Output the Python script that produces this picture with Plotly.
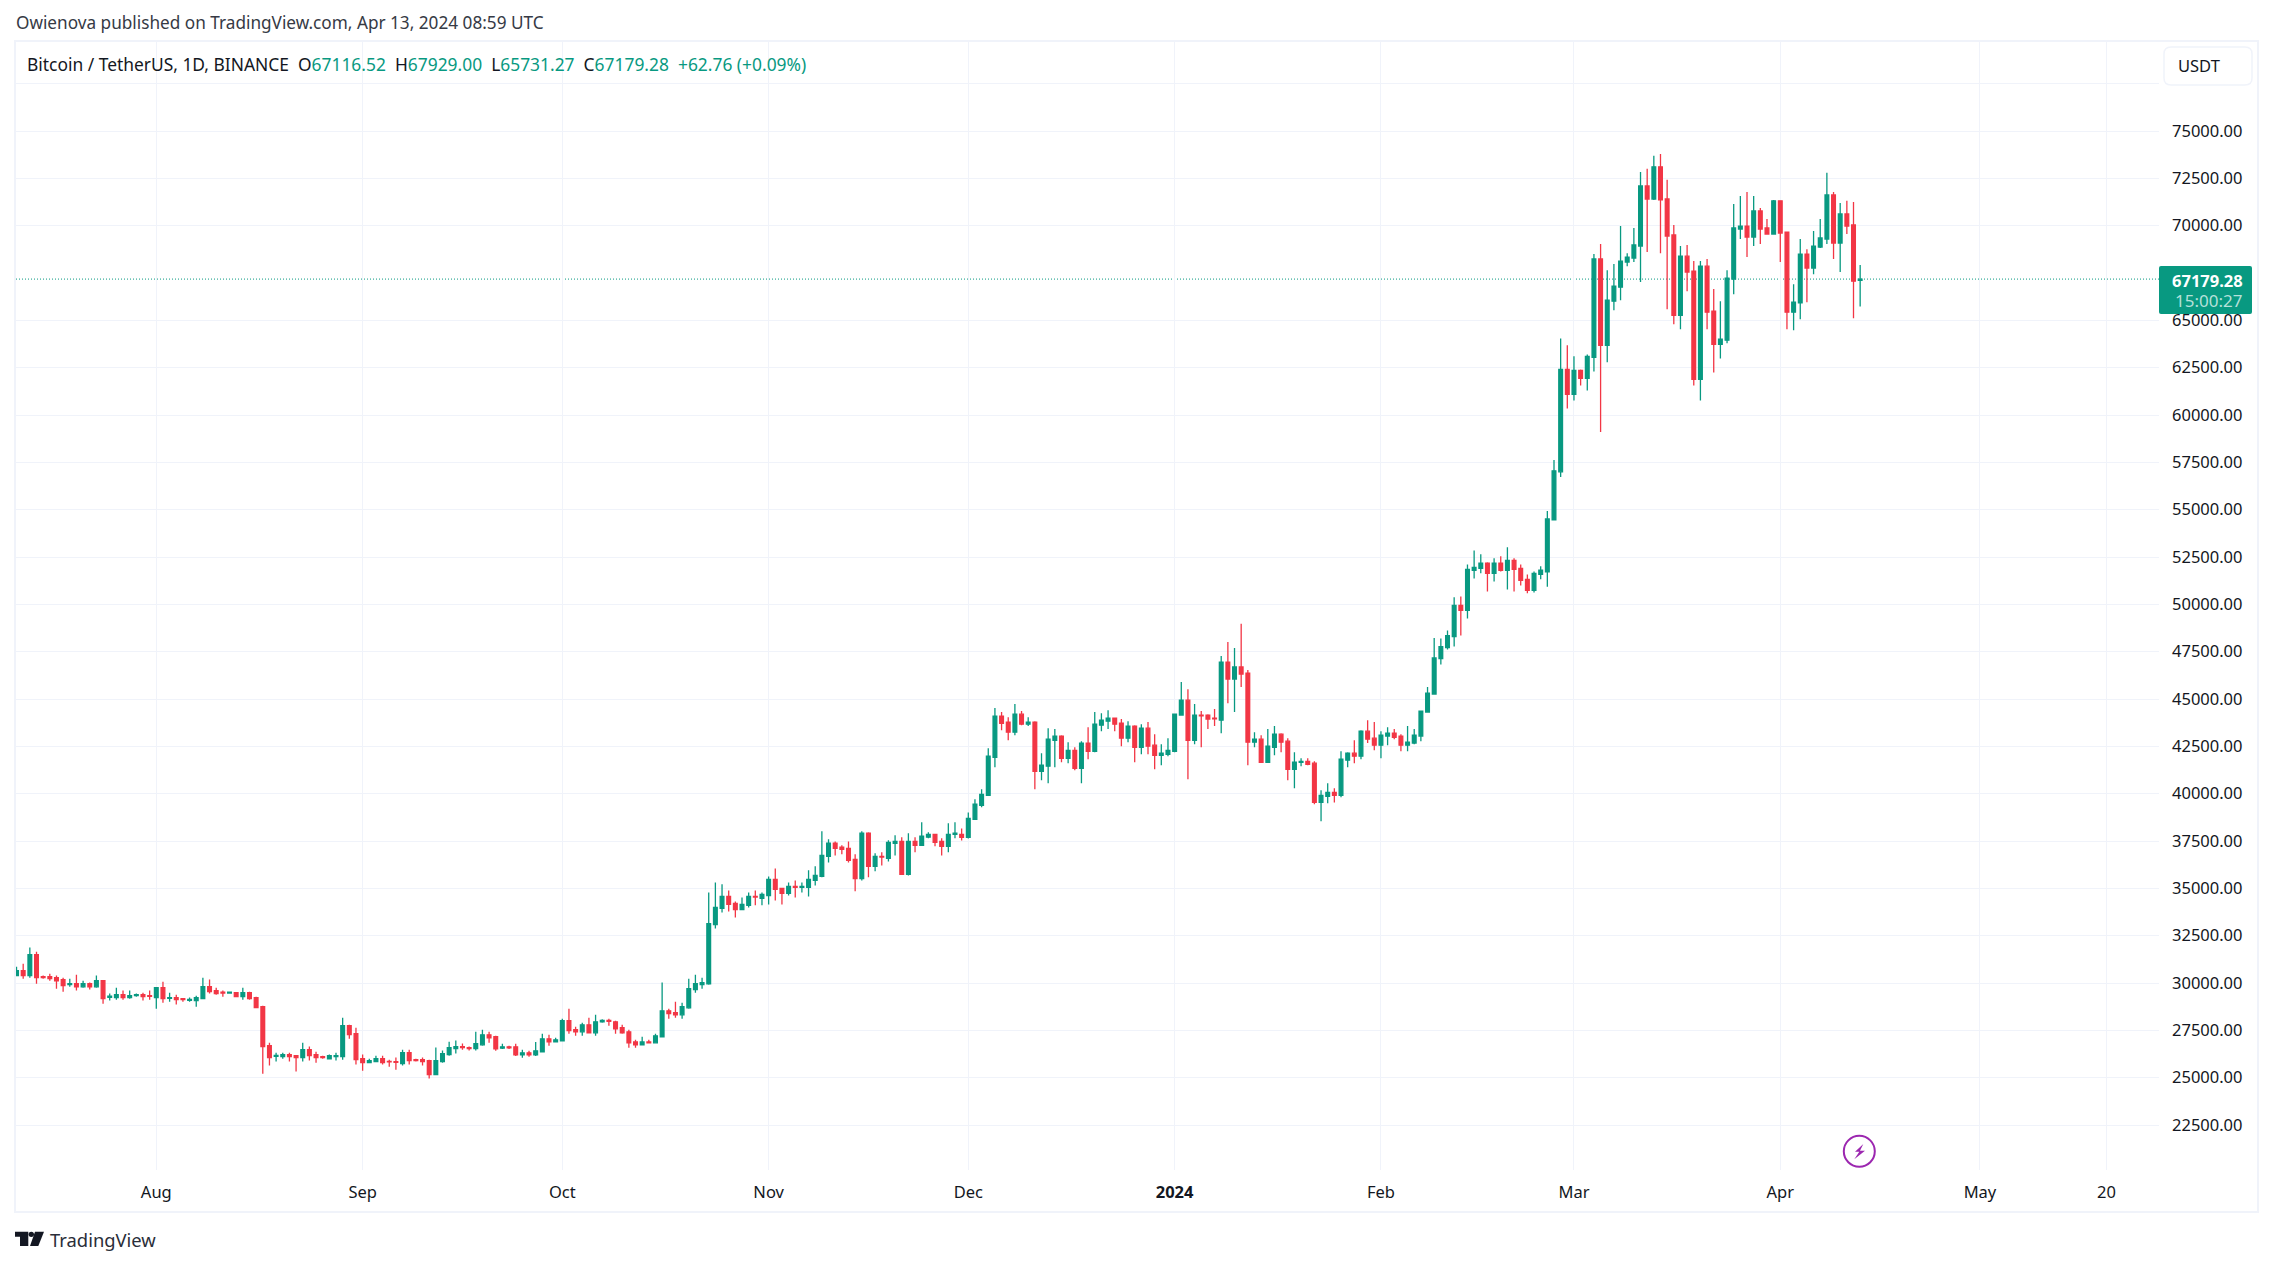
import pandas as pd
import plotly.graph_objects as go

START_DATE = "2023-07-11"

# daily candles, one line per month (Jul 2023 .. Apr 2024)
opens = [
    30390, 30650, 30390, 31500, 30330, 30330, 30280, 30180, 29910, 29960, 29800, 29960, 29800, 30120, 29240, 29230, 29380, 29230, 29330, 29380, 29330,
    29230, 29750, 29190, 29230, 29170, 29080, 29070, 29170, 29810, 29600, 29510, 29470, 29490, 29280, 29490, 29230, 28750, 26690, 26130, 26110, 26220, 26160, 26060, 26480, 26220, 26110, 26000, 26110, 26110, 27750, 27320,
    26000, 25790, 25850, 26000, 25860, 25850, 25740, 26320, 25950, 25950, 25900, 25160, 25850, 26220, 26530, 26640, 26590, 26530, 26735, 27260, 27160, 26560, 26630, 26630, 26210, 26310, 26210, 26360, 27050, 26890,
    26950, 28010, 27530, 27420, 27790, 27370, 27950, 28020, 27950, 27640, 27420, 26890, 26730, 26890, 26840, 27160, 28530, 28430, 28320, 28690, 29650, 29910, 29960, 33090, 33940, 34570, 34200, 33880, 34100, 34570, 34470,
    34620, 35470, 34990, 34730, 35100, 35050, 35050, 35420, 35630, 36690, 37380, 37170, 37110, 36530, 35520, 37910, 36160, 36690, 36580, 37380, 37480, 35740, 37480, 37270, 37700, 37850, 37480, 37220, 37850, 37850,
    37690, 38640, 39380, 39910, 41920, 44090, 43780, 43250, 44200, 43670, 43780, 41180, 41450, 42820, 43040, 41870, 42290, 41340, 42670, 42240, 43620, 43830, 43990, 43720, 42930, 43570, 42450, 43460, 42560, 42030, 42080,
    42240, 44150, 44940, 42820, 44150, 44150, 43990, 43880, 46950, 46050, 46690, 46370, 42720, 42880, 41660, 42450, 43140, 42770, 41290, 41660, 41710, 41610, 39540, 39860, 40070, 39910, 41770, 42140, 41980, 43300, 42930,
    42560, 43040, 43190, 43040, 42560, 42670, 43040, 44310, 45260, 47130, 47720, 48300, 49940, 49680, 51800, 51900, 52170, 51640, 52170, 51800, 52320, 51900, 51320, 50740, 51580, 51720, 54460, 57000, 62410,
    61090, 62360, 61930, 63050, 68240, 63680, 66010, 66750, 68080, 68290, 68920, 72100, 71410, 73110, 71410, 69510, 65270, 68390, 67600, 61880, 67860, 65480, 63730, 63950, 67180, 69820, 69980, 69400, 70780, 69880, 69560,
    71310, 69660, 65430, 65920, 68500, 67760, 68870, 69290, 71620, 69080, 70620, 70040, 67116.52,
]
highs = [
    30860, 31020, 31870, 31650, 30400, 30490, 30390, 30280, 30230, 30440, 30120, 30020, 30390, 30120, 29440, 29750, 29600, 29600, 29440, 29490, 29600,
    29750, 30070, 29490, 29380, 29170, 29230, 29330, 30280, 30180, 29750, 29600, 29540, 29490, 29750, 29540, 29280, 28800, 26850, 26320, 26320, 26320, 26160, 26850, 26640, 26370, 26160, 26220, 26320, 28170, 27800, 27640,
    26220, 26000, 26160, 26160, 25950, 26060, 26480, 26480, 26000, 26060, 25950, 26590, 26430, 26900, 26960, 26800, 26640, 27430, 27530, 27420, 27210, 26790, 26680, 26790, 26470, 26420, 26890, 27320, 27260, 27110,
    28110, 28640, 27690, 27900, 28160, 28320, 28080, 28110, 28000, 27790, 27530, 27000, 27160, 27000, 27320, 30020, 28640, 29010, 28960, 30230, 30440, 30280, 34780, 35310, 35210, 34890, 34310, 34520, 34780, 34890, 34780,
    35630, 36050, 34990, 35310, 35420, 35310, 35950, 36160, 38010, 37590, 37480, 37270, 37480, 36800, 38010, 37960, 36850, 36900, 37540, 37800, 37700, 37910, 37700, 38490, 37960, 37850, 37640, 38440, 38490, 38160,
    39010, 39700, 40230, 42400, 44520, 44310, 44040, 44730, 44360, 44040, 43830, 42140, 43460, 43410, 43090, 42720, 42450, 42770, 43510, 44310, 44250, 44410, 43990, 43940, 43830, 43620, 43670, 43780, 43140, 42610, 42930,
    44200, 45900, 45520, 44730, 44360, 44200, 44470, 47270, 48010, 47700, 48970, 46530, 43250, 43090, 43410, 43570, 43190, 42930, 42190, 41870, 41870, 41710, 40180, 40550, 40280, 42240, 42190, 42820, 43350, 43880, 43780,
    43300, 43510, 43410, 43140, 43570, 43410, 44360, 45630, 48220, 48190, 48620, 50370, 50420, 52110, 52850, 52640, 52220, 52430, 52540, 53010, 52430, 52110, 51580, 51740, 52010, 54930, 57630, 64040, 63680,
    63100, 62410, 63200, 68500, 69030, 67650, 67970, 69980, 68550, 69880, 72840, 73000, 73690, 73790, 72420, 70040, 68920, 68980, 68130, 68130, 68240, 66650, 66010, 67650, 71150, 71570, 71780, 71570, 70940, 70350, 71360,
    71310, 69660, 66910, 69290, 68760, 69720, 70350, 72790, 71780, 71200, 71310, 71250, 67929.00,
]
lows = [
    30350, 30230, 30280, 29960, 30230, 30120, 29700, 29540, 29800, 29600, 29750, 29650, 29750, 28910, 29070, 29120, 29120, 29170, 29280, 29070, 29120,
    28640, 28960, 29010, 28860, 29010, 29010, 28750, 29170, 29440, 29380, 29280, 29440, 29280, 29120, 29120, 28700, 25210, 25640, 25850, 26000, 25850, 25320, 25850, 25900, 25790, 26000, 26000, 25900, 25950, 27060, 25690,
    25370, 25790, 25850, 25690, 25580, 25420, 25640, 25690, 25850, 25640, 24950, 25160, 25790, 26160, 26270, 26480, 26430, 26430, 26680, 26840, 26420, 26520, 26520, 26150, 26050, 26100, 26150, 26360, 26680, 26890,
    26950, 27320, 27210, 27210, 27370, 27210, 27900, 27740, 27320, 27320, 26580, 26580, 26730, 26840, 26840, 27160, 28110, 28160, 28110, 28640, 29490, 29700, 29910, 32880, 33720, 33780, 33460, 33880, 33990, 34100, 34100,
    34150, 34360, 34150, 34620, 34520, 34780, 34570, 35150, 35580, 36370, 36740, 36800, 36370, 34840, 35420, 35580, 35900, 36210, 36420, 36740, 35740, 35680, 36900, 37270, 37640, 37220, 36740, 36900, 37640, 37530,
    37630, 38640, 39280, 39910, 41390, 43350, 42820, 43090, 43620, 43570, 40230, 40710, 40550, 41390, 41660, 41610, 41240, 40550, 41820, 42190, 43300, 43410, 43300, 42510, 42720, 41660, 42080, 42080, 41290, 41500, 41980,
    42190, 44150, 40760, 42610, 42450, 43410, 43570, 43190, 44780, 44310, 45630, 41500, 42450, 41660, 41660, 42030, 42190, 40710, 40280, 41450, 41500, 39440, 38540, 39490, 39540, 39810, 41390, 41610, 41820, 42670, 42290,
    41870, 42560, 42880, 42240, 42240, 42610, 42770, 44310, 45260, 46820, 47610, 47770, 48350, 49250, 51370, 51640, 50680, 51210, 51740, 50790, 50680, 51000, 50580, 50630, 51320, 50930, 54460, 56730, 60350,
    60770, 61560, 61300, 62300, 59100, 62780, 65530, 66060, 67860, 68080, 67020, 68610, 71360, 68550, 65590, 64790, 64530, 66540, 61560, 60770, 64530, 62250, 62990, 63790, 66380, 69290, 68340, 68920, 69030, 69560, 69560,
    68080, 64530, 64470, 65060, 65960, 67440, 68820, 69030, 68240, 67550, 69560, 65110, 65731.27,
]
closes = [
    30650, 30390, 31500, 30280, 30280, 30230, 30120, 29860, 29960, 29800, 29960, 29800, 30120, 29170, 29310, 29380, 29230, 29330, 29380, 29280, 29300,
    29750, 29170, 29230, 29120, 29120, 29140, 29230, 29810, 29540, 29440, 29470, 29510, 29280, 29490, 29170, 28700, 26640, 26060, 26180, 26220, 26110, 26060, 26480, 26160, 26060, 26060, 26160, 26160, 27750, 27270, 25950,
    25790, 25900, 26000, 25790, 25830, 25810, 26320, 25900, 25900, 25850, 25160, 25900, 26270, 26590, 26640, 26590, 26530, 26800, 27260, 27100, 26520, 26630, 26580, 26210, 26310, 26210, 26420, 27050, 26890, 27000,
    28010, 27480, 27420, 27790, 27370, 27950, 28020, 27970, 27580, 27370, 26840, 26730, 26890, 26840, 27210, 28530, 28380, 28320, 28750, 29700, 29960, 30020, 33140, 33990, 34570, 34150, 33880, 34150, 34570, 34540, 34680,
    35470, 34940, 34730, 35100, 35050, 35100, 35470, 35680, 36740, 37380, 37110, 37060, 36480, 35520, 37910, 36160, 36690, 36650, 37430, 37480, 35740, 37480, 37270, 37750, 37850, 37430, 37220, 37850, 37910, 37690,
    38690, 39440, 39960, 41980, 44090, 43720, 43250, 44200, 43670, 43780, 41180, 41500, 42880, 43040, 41870, 42290, 41340, 42670, 42240, 43670, 43880, 43990, 43670, 42930, 43570, 42450, 43460, 42510, 42030, 42140, 42290,
    44200, 44940, 42820, 44150, 44110, 43940, 43950, 46950, 46050, 46690, 46320, 42720, 42880, 41660, 42510, 43140, 42720, 41290, 41660, 41710, 41550, 39540, 39910, 40070, 39910, 41820, 42140, 41980, 43300, 42880, 42560,
    43090, 43190, 42980, 42560, 42720, 43090, 44360, 45310, 47170, 47770, 48350, 49940, 49680, 51850, 51950, 52170, 51640, 52170, 51800, 52320, 51850, 51270, 50740, 51640, 51800, 54510, 57050, 62410, 61090,
    62360, 61930, 63100, 68240, 63680, 66060, 66810, 68130, 68340, 68980, 72100, 71410, 73110, 71360, 69450, 65270, 68390, 67550, 61880, 67860, 65430, 63730, 64000, 67230, 69880, 69980, 69400, 70780, 69820, 69560, 71310,
    69610, 65430, 65960, 68500, 67760, 68920, 69350, 71620, 69080, 70620, 69980, 67070, 67179.28,
]

date_ticks = ["2023-08-01", "2023-09-01", "2023-10-01", "2023-11-01", "2023-12-01", "2024-01-01",
              "2024-02-01", "2024-03-01", "2024-04-01", "2024-05-01", "2024-05-20"]
date_labels = ["Aug", "Sep", "Oct", "Nov", "Dec", "<b>2024</b>", "Feb", "Mar", "Apr", "May", "20"]

# 67500 has no line or label in the picture, the price tag covers it
price_ticks = [22500, 25000, 27500, 30000, 32500, 35000, 37500, 40000, 42500, 45000, 47500, 50000,
               52500, 55000, 57500, 60000, 62500, 65000, 70000, 72500, 75000, 77500]
price_labels = [f"{p}.00" for p in price_ticks[:-1]] + [""]

last_price = 67179.28
countdown = "15:00:27"
title_text = "Owienova published on TradingView.com, Apr 13, 2024 08:59 UTC"

WIDTH, HEIGHT = 2273, 1266
LEFT, RIGHT, TOP, BOTTOM = 16, 2159, 41, 1170
GREEN = "#089981"
RED = "#F23645"
GRID = "#F0F3FA"
TEXT = "#131722"
FONT = "Noto Sans"
SIZE = 16.5
NB = "\u00a0\u00a0"


def px(x):
    return (x - LEFT) / (RIGHT - LEFT)


def py(y):
    return (BOTTOM - y) / (BOTTOM - TOP)


def poly(points):
    return "M " + " L ".join(f"{px(x)} {py(y)}" for x, y in points) + " Z"


def rounded(x0, y0, x1, y1, r):
    return (f"M {px(x0 + r)} {py(y0)} L {px(x1 - r)} {py(y0)} Q {px(x1)} {py(y0)} {px(x1)} {py(y0 + r)} "
            f"L {px(x1)} {py(y1 - r)} Q {px(x1)} {py(y1)} {px(x1 - r)} {py(y1)} "
            f"L {px(x0 + r)} {py(y1)} Q {px(x0)} {py(y1)} {px(x0)} {py(y1 - r)} "
            f"L {px(x0)} {py(y0 + r)} Q {px(x0)} {py(y0)} {px(x0 + r)} {py(y0)} Z")


def paper_shape(**kwargs):
    return dict(xref="paper", yref="paper", **kwargs)


def paper_text(x, y, text, size=SIZE, color=TEXT, anchor="left", family=FONT):
    return dict(xref="paper", yref="paper", x=px(x), y=py(y), text=text, showarrow=False,
                xanchor=anchor, yanchor="middle", borderpad=0, font=dict(family=family, size=size, color=color))


def colored(value):
    return f'<span style="color:{GREEN}">{value}</span>'


df = pd.DataFrame(dict(open=opens, high=highs, low=lows, close=closes))
df["date"] = pd.date_range(START_DATE, periods=len(df), freq="D")

fig = go.Figure(go.Candlestick(
    x=df["date"], open=df["open"], high=df["high"], low=df["low"], close=df["close"],
    increasing=dict(line=dict(color=GREEN, width=1.3), fillcolor=GREEN),
    decreasing=dict(line=dict(color=RED, width=1.3), fillcolor=RED),
    whiskerwidth=0, showlegend=False,
))

ohlc_text = (f"Bitcoin / TetherUS, 1D, BINANCE{NB}O{colored('67116.52')}{NB}H{colored('67929.00')}{NB}"
             f"L{colored('65731.27')}{NB}C{colored('67179.28')}{NB}{colored('+62.76 (+0.09%)')}")

shapes = [
    paper_shape(type="rect", x0=px(15), x1=px(2258), y0=py(41), y1=py(1212), line=dict(color=GRID, width=2), layer="below"),
    dict(type="line", xref="paper", yref="y", x0=0, x1=1, y0=last_price, y1=last_price,
         line=dict(color=GREEN, width=1, dash="1px,2px"), layer="below"),
    paper_shape(type="path", path=rounded(2159, 266, 2252, 314, 2), fillcolor=GREEN, line=dict(width=0)),
    paper_shape(type="path", path=rounded(2164, 47, 2252, 85, 7), fillcolor="white", line=dict(color=GRID, width=1.5)),
    paper_shape(type="circle", x0=px(1843.8), x1=px(1874.8), y0=py(1135.8), y1=py(1166.8),
                line=dict(color="#9C27B0", width=2)),
    paper_shape(type="path", path=poly([(1863.3, 1144), (1855, 1151.7), (1859.3, 1151.7), (1854.3, 1159.3),
                                        (1865, 1150.7), (1860, 1150.7)]), fillcolor="#9C27B0", line=dict(width=0)),
    # TradingView logo
    paper_shape(type="path", path=poly([(15, 1231.7), (28.3, 1231.7), (28.3, 1246), (20, 1246), (20, 1236.7), (15, 1236.7)]),
                fillcolor=TEXT, line=dict(width=0)),
    paper_shape(type="circle", x0=px(28.6), x1=px(34), y0=py(1231.7), y1=py(1237), fillcolor=TEXT, line=dict(width=0)),
    paper_shape(type="path", path=poly([(35, 1231.7), (44, 1231.7), (38.3, 1246), (30, 1246)]),
                fillcolor=TEXT, line=dict(width=0)),
]

annotations = [
    paper_text(15, 23, title_text, size=17.2, color="#363A45"),
    paper_text(26, 64, ohlc_text, size=17.4),
    paper_text(2199, 65.5, "USDT", anchor="center"),
    paper_text(2244, 280, f"<b>{last_price}</b>", color="white", anchor="right"),
    paper_text(2243, 300.5, countdown, size=17, color="#B5E0D9", anchor="right"),
    paper_text(49, 1239, "TradingView", size=18.4, color="#2A2E39"),
]

fig.update_layout(
    width=WIDTH, height=HEIGHT,
    margin=dict(l=LEFT, r=WIDTH - RIGHT, t=TOP, b=HEIGHT - BOTTOM, pad=0),
    paper_bgcolor="white", plot_bgcolor="white",
    font=dict(family=FONT, size=SIZE, color=TEXT),
    showlegend=False,
    boxgap=0.2, boxgroupgap=0.3,
    shapes=shapes,
    annotations=annotations,
    xaxis=dict(
        type="date", range=["2023-07-10 22:05", "2024-05-27 21:36"],
        rangeslider=dict(visible=False),
        tickmode="array", tickvals=date_ticks, ticktext=date_labels,
        showgrid=True, gridcolor=GRID, gridwidth=1, zeroline=False, showline=False,
        ticks="", ticklabelstandoff=10,
    ),
    yaxis=dict(
        side="right", range=[20123, 79754],
        tickmode="array", tickvals=price_ticks, ticktext=price_labels,
        showgrid=True, gridcolor=GRID, gridwidth=1, zeroline=False, showline=False,
        ticks="", ticklabelstandoff=12,
    ),
)

fig.write_html("out.html", config=dict(displayModeBar=False), post_script="document.body.style.margin='0';")
